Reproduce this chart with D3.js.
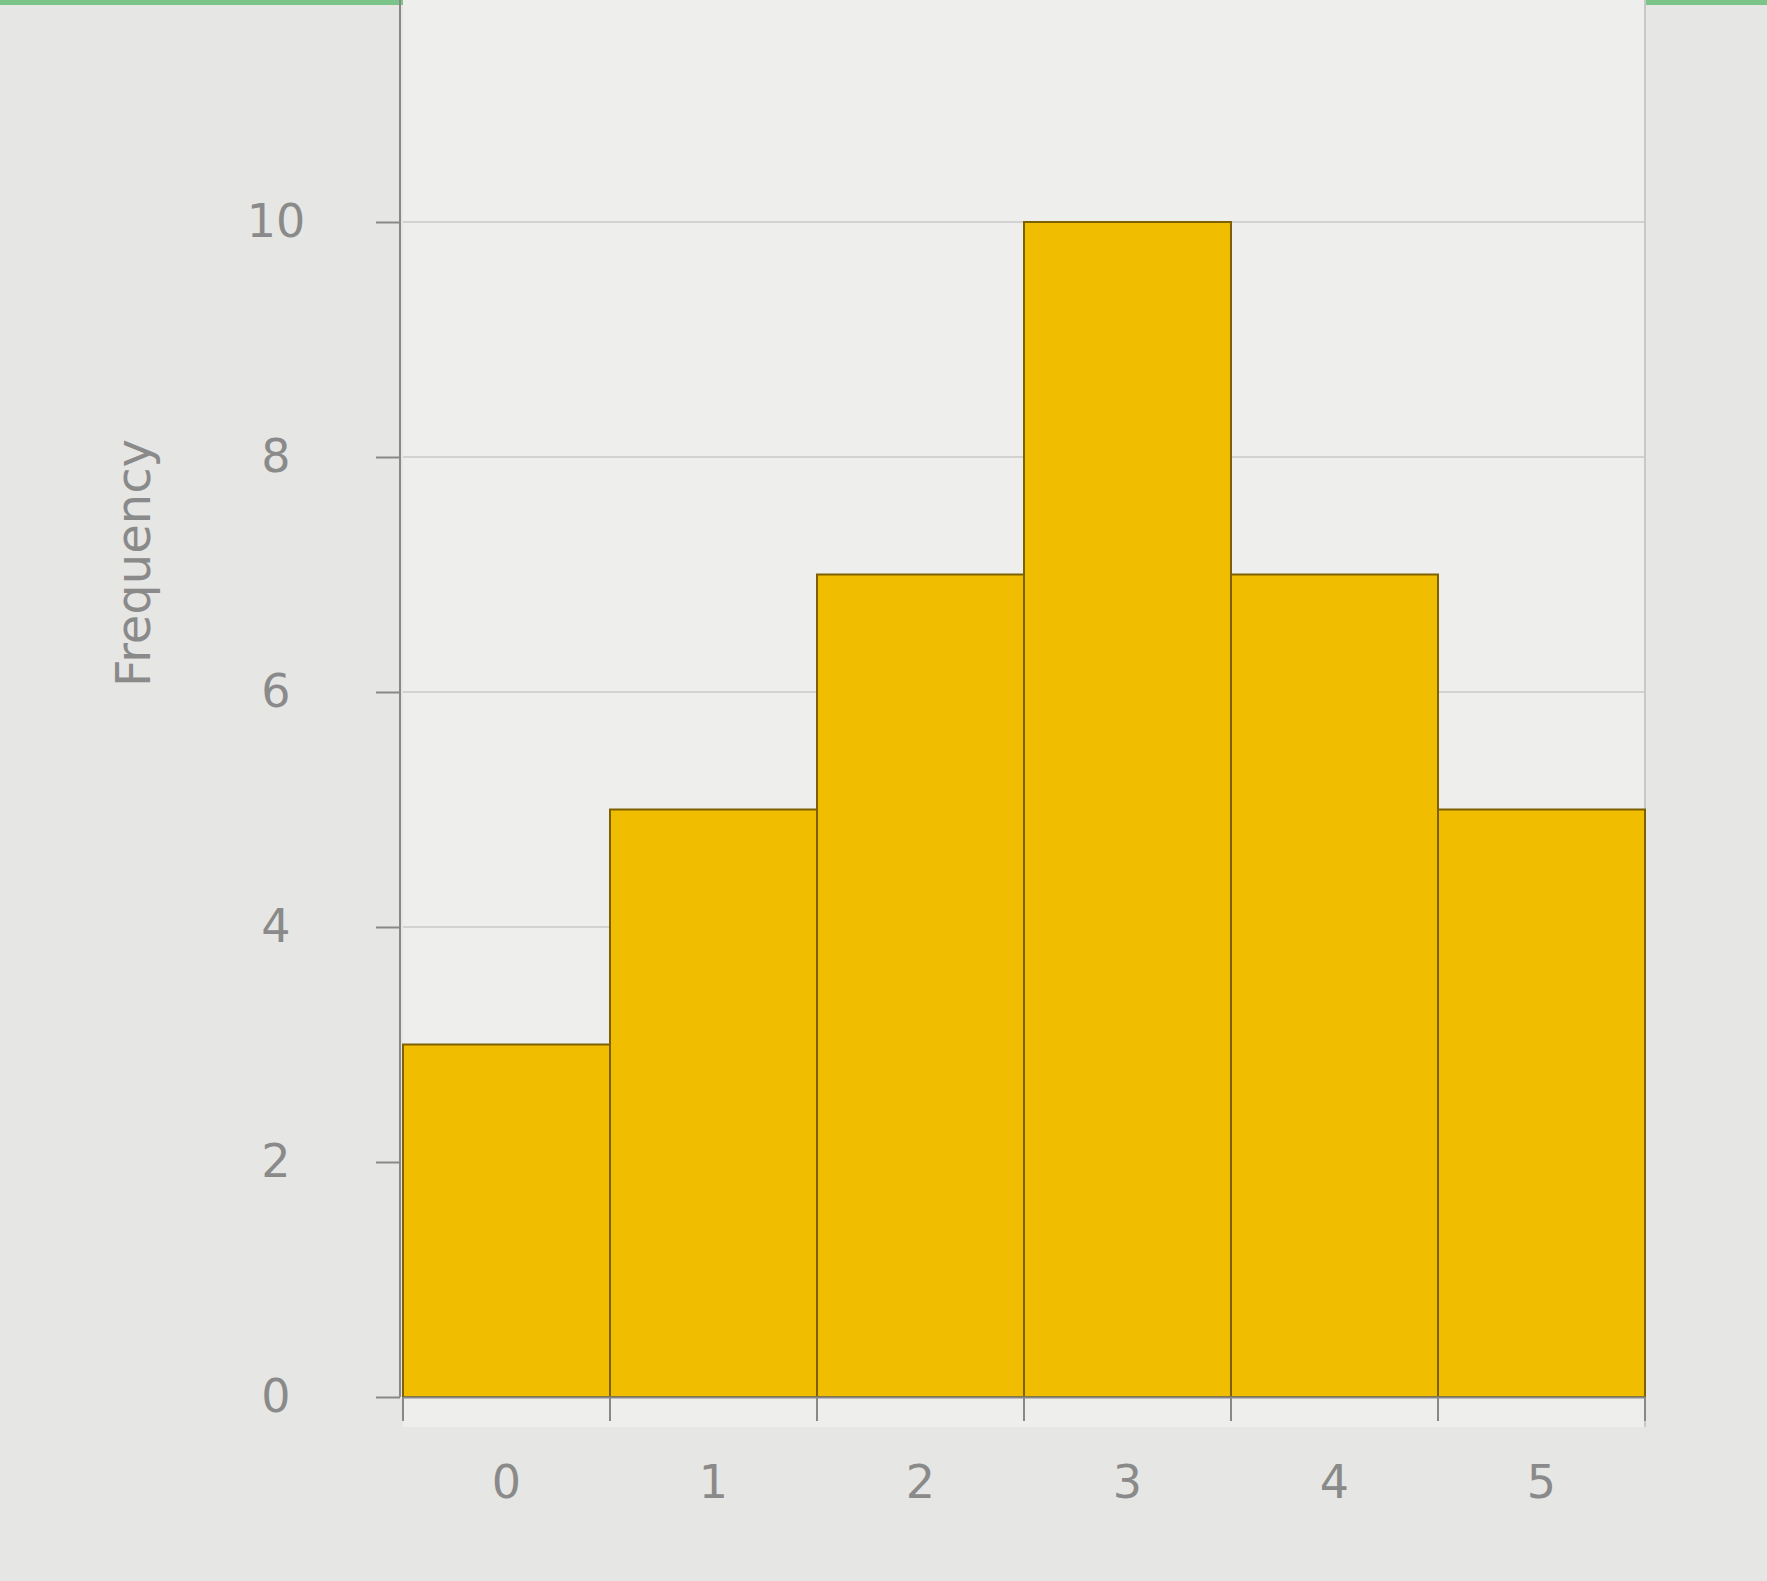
<!DOCTYPE html>
<html><head><meta charset="utf-8">
<script src="https://cdn.jsdelivr.net/npm/d3@7"></script>
<style>body{margin:0;background:#e6e6e4;}</style></head>
<body><div id="chart"></div>
<script>
var categories = ["0", "1", "2", "3", "4", "5"];
var frequencies = [3, 5, 7, 10, 7, 5];
var yTicks = [0, 2, 4, 6, 8, 10];

var W = 1767, H = 1581;
var margin = {left: 403, right: 122, top: 222, bottom: 184};

var svg = d3.select("#chart").append("svg")
    .attr("width", W).attr("height", H);

// green strip at top
svg.append("rect").attr("x", 0).attr("y", 0).attr("width", W).attr("height", 5).attr("fill", "#7cc58a");
// plot area
svg.append("rect").attr("x", margin.left).attr("y", 0)
    .attr("width", W - margin.left - margin.right).attr("height", H - margin.bottom + 30)
    .attr("fill", "#eeeeed");

var x = d3.scaleBand().domain(categories)
    .range([margin.left, W - margin.right]).padding(0);
var y = d3.scaleLinear().domain([0, 10])
    .range([H - margin.bottom, margin.top]);

// gridlines
svg.append("g").selectAll("line").data(yTicks.slice(1)).enter().append("line")
    .attr("x1", margin.left).attr("x2", W - margin.right)
    .attr("y1", d => y(d)).attr("y2", d => y(d))
    .attr("stroke", "#d2d2d2").attr("stroke-width", 2);

// left and right border lines
svg.append("line").attr("x1", margin.left - 3).attr("x2", margin.left - 3)
    .attr("y1", 0).attr("y2", H - margin.bottom).attr("stroke", "#888").attr("stroke-width", 2);
svg.append("line").attr("x1", W - margin.right).attr("x2", W - margin.right)
    .attr("y1", 0).attr("y2", H - margin.bottom + 30).attr("stroke", "#c8c8c8").attr("stroke-width", 2);

// bars
svg.append("g").selectAll("rect").data(frequencies).enter().append("rect")
    .attr("x", (d, i) => x(categories[i]))
    .attr("y", d => y(d))
    .attr("width", x.bandwidth())
    .attr("height", d => y(0) - y(d))
    .attr("fill", "#f0bd00")
    .attr("stroke", "#7d6000").attr("stroke-width", 2);

// y axis
var yAxis = svg.append("g").attr("transform", "translate(" + (margin.left - 3) + ",0)")
    .call(d3.axisLeft(y).tickValues(yTicks).tickSize(24).tickPadding(100));
yAxis.select(".domain").remove();
yAxis.selectAll("line").attr("stroke", "#888").attr("stroke-width", 2);
yAxis.selectAll("text").attr("font-family", "DejaVu Sans").attr("font-size", 46).attr("fill", "#8a8a8a")
    .attr("text-anchor", "middle");

// x axis
var xAxis = svg.append("g").attr("transform", "translate(0," + y(0) + ")")
    .call(d3.axisBottom(x).tickSize(0).tickPadding(68));
xAxis.select(".domain").attr("stroke", "#888").attr("stroke-width", 2);
xAxis.selectAll("text").attr("font-family", "DejaVu Sans").attr("font-size", 46).attr("fill", "#8a8a8a");
// tick marks at bin edges
svg.append("g").selectAll("line").data(d3.range(categories.length + 1)).enter().append("line")
    .attr("x1", i => margin.left + i * x.bandwidth()).attr("x2", i => margin.left + i * x.bandwidth())
    .attr("y1", y(0)).attr("y2", y(0) + 24)
    .attr("stroke", "#888").attr("stroke-width", 2);

// y label
svg.append("text")
    .attr("transform", "translate(150,563) rotate(-90)")
    .attr("text-anchor", "middle")
    .attr("font-family", "DejaVu Sans").attr("font-size", 48).attr("fill", "#8a8a8a")
    .text("Frequency");
</script></body></html>
